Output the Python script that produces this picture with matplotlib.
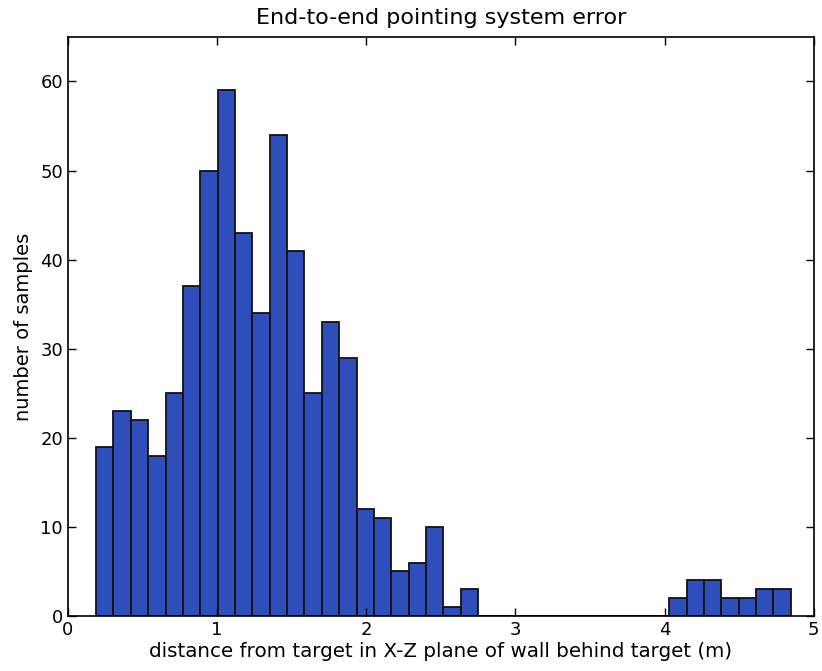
import numpy as np
import matplotlib
matplotlib.use("Agg")
import matplotlib.pyplot as plt

# histogram range and counts (40 bins)
bin_lo = 0.188
bin_hi = 4.846
counts = [19, 23, 22, 18, 25, 37, 50, 59, 43, 34,
          54, 41, 25, 33, 29, 12, 11, 5, 6, 10,
          1, 3, 0, 0, 0, 0, 0, 0, 0, 0,
          0, 0, 0, 2, 4, 4, 2, 2, 3, 3]
x_ticks = [0, 1, 2, 3, 4, 5]
y_ticks = [0, 10, 20, 30, 40, 50, 60]

plt.rcParams['font.family'] = ['DejaVu Sans']
fig = plt.figure(figsize=(8.22, 6.71), dpi=100)
ax = fig.add_axes([0.0827, 0.082, 0.9073, 0.863])

edges = np.linspace(bin_lo, bin_hi, len(counts) + 1)
widths = np.diff(edges)
ax.bar(edges[:-1], counts, width=widths, align='edge',
       color='#2e4fbb', edgecolor='#111111', linewidth=1.3)

ax.set_xlim(0, 5)
ax.set_ylim(0, 65)
ax.set_xticks(x_ticks)
ax.set_yticks(y_ticks)
ax.tick_params(direction='in', top=True, right=True, length=6,
               labelsize=13, width=1)
for s in ax.spines.values():
    s.set_linewidth(1.2)
ax.set_title('End-to-end pointing system error', fontsize=16, pad=9)
ax.set_xlabel('distance from target in X-Z plane of wall behind target (m)',
              fontsize=14.3, labelpad=2)
ax.set_ylabel('number of samples', fontsize=14, labelpad=5)

fig.savefig('out.png', dpi=100)
